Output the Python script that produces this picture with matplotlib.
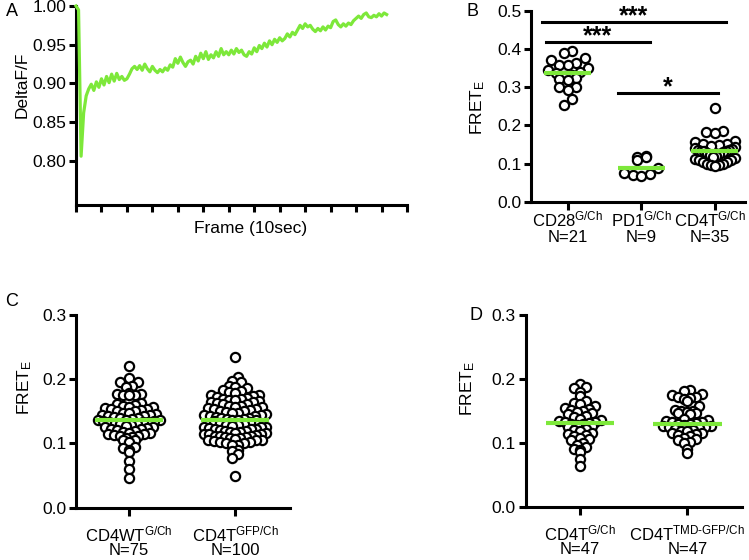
import numpy as np
import matplotlib
matplotlib.use('Agg')
import matplotlib.pyplot as plt

plt.rcParams['font.family'] = ['Liberation Sans', 'DejaVu Sans']
plt.rcParams['mathtext.fontset'] = 'custom'
plt.rcParams['mathtext.rm'] = 'Liberation Sans'
plt.rcParams['mathtext.it'] = 'Liberation Sans:italic'
plt.rcParams['mathtext.bf'] = 'Liberation Sans:bold'
plt.rcParams['mathtext.default'] = 'regular'

GREEN = '#7DE83A'

# ---------------- Panel A data (one value every 2 frames) ----------------
trace_values = [
    1.000, 0.995, 0.806, 0.862, 0.884, 0.893, 0.899, 0.891, 0.902, 0.895,
    0.906, 0.898, 0.909, 0.901, 0.912, 0.903, 0.913, 0.905, 0.909, 0.904,
    0.906, 0.912, 0.919, 0.922, 0.918, 0.923, 0.917, 0.925, 0.919, 0.915,
    0.922, 0.917, 0.914, 0.918, 0.915, 0.920, 0.917, 0.924, 0.921, 0.932,
    0.926, 0.934, 0.927, 0.922, 0.928, 0.930, 0.925, 0.935, 0.929, 0.939,
    0.932, 0.941, 0.931, 0.937, 0.933, 0.941, 0.935, 0.945, 0.937, 0.941,
    0.937, 0.943, 0.938, 0.945, 0.940, 0.943, 0.937, 0.935, 0.941, 0.938,
    0.946, 0.941, 0.949, 0.945, 0.952, 0.947, 0.955, 0.950, 0.957, 0.953,
    0.959, 0.955, 0.958, 0.964, 0.960, 0.966, 0.963, 0.969, 0.975, 0.971,
    0.977, 0.973, 0.975, 0.970, 0.967, 0.971, 0.968, 0.973, 0.969, 0.974,
    0.972, 0.980, 0.982, 0.976, 0.973, 0.977, 0.974, 0.978, 0.976, 0.981,
    0.984, 0.987, 0.984, 0.989, 0.991, 0.986, 0.985, 0.988, 0.986, 0.990,
    0.987, 0.991, 0.989,
]
frame_step = 2
a_xticks = list(range(0, 261, 20))
a_yticks = [0.80, 0.85, 0.90, 0.95, 1.00]

# ---------------- Panel B data ----------------
b_labels = ['$CD28^{G/Ch}$\nN=21', '$PD1^{G/Ch}$\nN=9', '$CD4T^{G/Ch}$\nN=35']
b_cd28 = [0.395, 0.39, 0.375, 0.37, 0.362, 0.358, 0.358, 0.35, 0.345, 0.34,
          0.338, 0.332, 0.33, 0.323, 0.32, 0.318, 0.30, 0.30, 0.292, 0.268, 0.253]
b_pd1 = [0.12, 0.118, 0.117, 0.11, 0.088, 0.075, 0.072, 0.07, 0.068]
b_cd4t = [0.245, 0.185, 0.183, 0.18, 0.16, 0.155, 0.152, 0.15, 0.148, 0.145,
          0.142, 0.14, 0.138, 0.136, 0.135, 0.134, 0.133, 0.132, 0.13, 0.128,
          0.125, 0.122, 0.12, 0.118, 0.115, 0.112, 0.11, 0.108, 0.105, 0.103,
          0.1, 0.098, 0.097, 0.095, 0.093]
# significance brackets: (x start, x end, y, label)
b_sig = [(-0.354, 2.146, 0.47, '***'), (-0.303, 1.116, 0.418, '***'), (0.676, 2.04, 0.284, '*')]

# ---------------- Panel C data ----------------
c_labels = ['$CD4WT^{G/Ch}$\nN=75', '$CD4T^{GFP/Ch}$\nN=100']
c_wt = [0.221, 0.202, 0.196, 0.195, 0.19, 0.188, 0.178, 0.177, 0.177, 0.176,
        0.176, 0.175,
        0.163, 0.162, 0.16, 0.158, 0.157, 0.156, 0.155, 0.154, 0.153, 0.152,
        0.151, 0.15,
        0.148, 0.147, 0.146, 0.145, 0.144, 0.143, 0.142, 0.141, 0.14, 0.139,
        0.138, 0.137, 0.136, 0.136, 0.135, 0.135, 0.134, 0.134,
        0.133, 0.132, 0.131, 0.13, 0.128, 0.127, 0.126, 0.125, 0.124, 0.123,
        0.122, 0.121, 0.12,
        0.118, 0.117, 0.116, 0.115, 0.114, 0.113, 0.112, 0.111, 0.11, 0.108,
        0.106, 0.105,
        0.103, 0.095, 0.093, 0.09, 0.086, 0.072, 0.06, 0.046]
c_gfp = [0.235, 0.204, 0.198, 0.195, 0.19, 0.188, 0.186, 0.184, 0.182, 0.18,
         0.178, 0.176, 0.175, 0.174, 0.172, 0.171, 0.17, 0.169, 0.168, 0.167,
         0.166, 0.165, 0.164, 0.163, 0.162, 0.161,
         0.159, 0.158, 0.157, 0.156, 0.155, 0.154, 0.153, 0.152, 0.151, 0.15,
         0.149, 0.148, 0.147, 0.146, 0.145, 0.144, 0.143, 0.142, 0.141, 0.14,
         0.139, 0.138, 0.138, 0.137, 0.137, 0.136, 0.135, 0.134, 0.132, 0.131,
         0.129, 0.128, 0.127, 0.126, 0.126, 0.125, 0.124, 0.123, 0.122, 0.122,
         0.121, 0.12, 0.119, 0.118, 0.118, 0.117, 0.116, 0.115, 0.115, 0.114,
         0.113, 0.112, 0.112, 0.111, 0.11, 0.11,
         0.109, 0.108, 0.107, 0.106, 0.105, 0.105, 0.104, 0.103, 0.102, 0.101,
         0.1, 0.098, 0.097, 0.09, 0.088, 0.083, 0.077, 0.05]

# ---------------- Panel D data ----------------
d_labels = ['$CD4T^{G/Ch}$\nN=47', '$CD4T^{TMD\u2010GFP/Ch}$\nN=47']
d_gch = [0.192, 0.187, 0.185, 0.179, 0.174, 0.166, 0.163,
         0.16, 0.157, 0.155, 0.153, 0.152, 0.15, 0.148, 0.146, 0.145,
         0.142, 0.14, 0.138, 0.136, 0.134, 0.133, 0.132, 0.131, 0.13,
         0.13, 0.128, 0.126, 0.124, 0.122, 0.12, 0.118, 0.116, 0.114, 0.112,
         0.11, 0.108, 0.106, 0.104, 0.1, 0.097, 0.094, 0.09, 0.088, 0.085,
         0.074, 0.063]
d_tmd = [0.183, 0.181, 0.177, 0.175, 0.172, 0.171, 0.17, 0.168, 0.166, 0.157,
         0.152, 0.15, 0.149, 0.148, 0.147, 0.146, 0.145,
         0.138, 0.136, 0.134, 0.133, 0.132, 0.131, 0.129, 0.129, 0.128, 0.127,
         0.126, 0.125, 0.124, 0.123,
         0.122, 0.12, 0.119, 0.118, 0.116, 0.115, 0.114, 0.112, 0.11, 0.108,
         0.106, 0.104, 0.102, 0.1, 0.09, 0.084]

W, H = 749, 560
fig = plt.figure(figsize=(W / 100, H / 100), dpi=100)

TICK_FS = 12.5
CAT_FS = 12
SPINE_LW = 2.2


def px_axes(l, r, t, b):
    return fig.add_axes([l / W, 1 - b / H, (r - l) / W, (b - t) / H])


def ftext(x, y, s, **kw):
    kw.setdefault('ha', 'center')
    kw.setdefault('va', 'center')
    kw.setdefault('fontsize', TICK_FS)
    fig.text(x / W, 1 - y / H, s, **kw)


def style(ax):
    for s in ('top', 'right'):
        ax.spines[s].set_visible(False)
    for s in ('left', 'bottom'):
        ax.spines[s].set_linewidth(SPINE_LW)
    ax.tick_params(axis='both', which='major', direction='out', length=5,
                   width=SPINE_LW, labelsize=TICK_FS, color='black', pad=2)


def cat_labels(ax, labels, top_px, linespacing, shifts=None):
    ax.set_xticks(range(len(labels)))
    ax.set_xticklabels([''] * len(labels))
    ax.tick_params(axis='x', length=6)
    for i, lab in enumerate(labels):
        dx = 0 if shifts is None else shifts[i]
        ax.annotate(lab, xy=(i, 0), xycoords=('data', 'axes fraction'),
                    xytext=(dx * 0.72, -top_px * 0.72), textcoords='offset points',
                    ha='center', va='top', fontsize=CAT_FS,
                    linespacing=linespacing, annotation_clip=False)


def swarm(ax, groups, step_px=6.2, bin_px=7.0, half=0.32, max_half_px=30, ms=44):
    p0 = ax.transData.transform((0, 0))
    p1 = ax.transData.transform((1, 1))
    ux, uy = p1[0] - p0[0], p1[1] - p0[1]
    bin_h = bin_px / uy
    for i, vals in enumerate(groups):
        v = np.asarray(vals, dtype=float)
        keys = np.round(v / bin_h).astype(int)
        off = np.zeros(len(v))
        for k in np.unique(keys):
            idx = np.where(keys == k)[0]
            idx = idx[np.argsort(v[idx], kind='stable')]
            n = len(idx)
            st = step_px
            if n > 1:
                st = min(step_px, 2 * max_half_px / (n - 1))
            pos = (np.arange(n) - (n - 1) / 2) * st / ux
            order = np.argsort(np.abs(pos), kind='stable')
            off[idx] = pos[order]
        ax.scatter(i + off, v, s=ms, facecolors='white', edgecolors='black',
                   linewidths=1.6, zorder=3, clip_on=False)
        med = np.median(v)
        ax.plot([i - half, i + half], [med, med], color=GREEN, lw=3.0,
                zorder=4, solid_capstyle='butt')


# ---------------- Panel A ----------------
axA = px_axes(76, 407, 6, 205)
frames = np.arange(len(trace_values)) * frame_step
axA.plot(frames, trace_values, color=GREEN, lw=2.3, clip_on=False, zorder=3)
axA.set_xlim(0, 260)
axA.set_ylim(0.743, 1.0)
axA.set_xticks(a_xticks)
axA.set_xticklabels([])
axA.set_yticks(a_yticks)
axA.set_yticklabels(['%.2f' % t for t in a_yticks])
style(axA)
ftext(251, 228, 'Frame (10sec)')
ftext(22, 85, 'DeltaF/F', rotation=90)

# ---------------- Panel B ----------------
axB = px_axes(531, 745, 10.7, 201.7)
axB.set_xlim(-0.503, 2.41)
axB.set_ylim(0, 0.5)
style(axB)
axB.set_yticks([0.0, 0.1, 0.2, 0.3, 0.4, 0.5])
axB.set_yticklabels(['%.1f' % t for t in [0.0, 0.1, 0.2, 0.3, 0.4, 0.5]])
cat_labels(axB, b_labels, 8, 1.05, shifts=[0, 0, -5])
ftext(478, 107, '$FRET_E$', rotation=90)
swarm(axB, [b_cd28, b_pd1, b_cd4t], step_px=8.5, bin_px=10.0, half=0.32,
      max_half_px=20)
for x0, x1, y, lab in b_sig:
    axB.plot([x0, x1], [y, y], color='black', lw=2.2, clip_on=False)
    axB.text((x0 + x1) / 2, y - 0.016, lab, ha='center', va='bottom',
             fontsize=18, fontweight='bold')

# ---------------- Panel C ----------------
axC = px_axes(76, 290, 315, 507.7)
axC.set_xlim(-0.494, 1.513)
axC.set_ylim(0, 0.3)
style(axC)
axC.set_yticks([0.0, 0.1, 0.2, 0.3])
axC.set_yticklabels(['%.1f' % t for t in [0.0, 0.1, 0.2, 0.3]])
cat_labels(axC, c_labels, 17, 0.9)
ftext(25, 387, '$FRET_E$', rotation=90)
swarm(axC, [c_wt, c_gfp], step_px=6.0, bin_px=6.5, half=0.32, max_half_px=31)

# ---------------- Panel D ----------------
axD = px_axes(525.7, 741.7, 315, 506.7)
axD.set_xlim(-0.506, 1.507)
axD.set_ylim(0, 0.3)
style(axD)
axD.set_yticks([0.0, 0.1, 0.2, 0.3])
axD.set_yticklabels(['%.1f' % t for t in [0.0, 0.1, 0.2, 0.3]])
cat_labels(axD, d_labels, 17, 0.9)
ftext(468, 388, '$FRET_E$', rotation=90)
swarm(axD, [d_gch, d_tmd], step_px=6.0, bin_px=6.5, half=0.32, max_half_px=31)

# ---------------- panel letters ----------------
for lab, x, y in [('A', 12, 11), ('B', 472, 11), ('C', 12, 301), ('D', 476, 316)]:
    ftext(x, y, lab, fontsize=13)

fig.savefig('out.png', dpi=100)
